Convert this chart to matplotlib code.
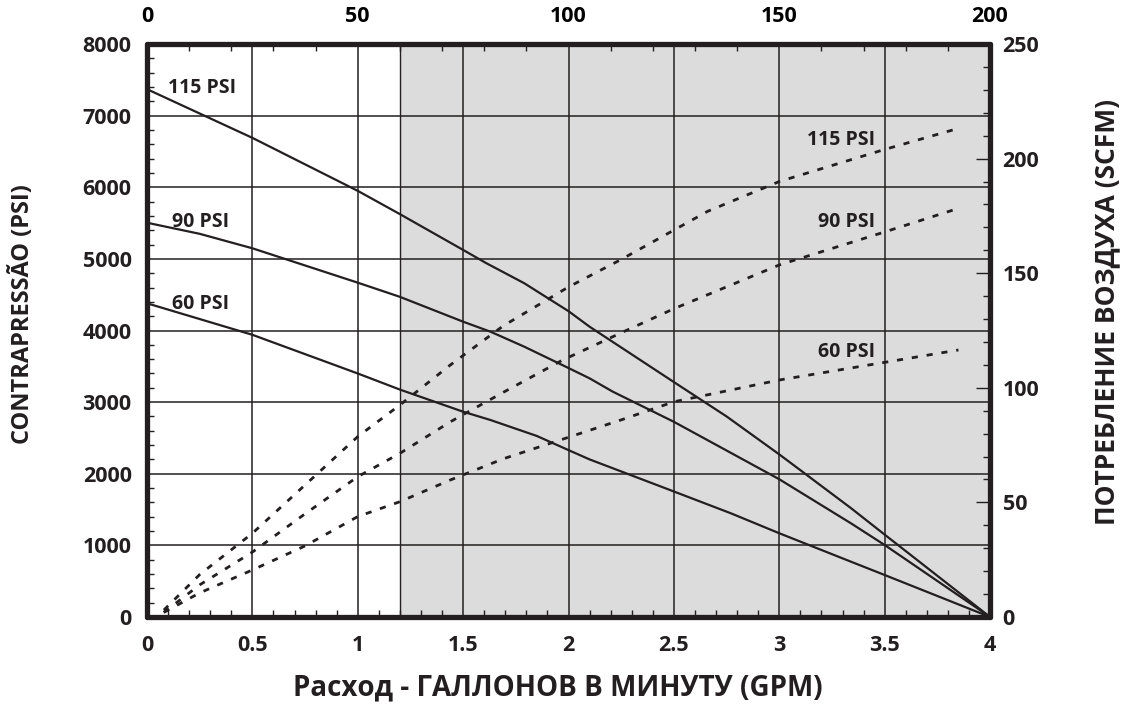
#!/usr/bin/env python3
import matplotlib
matplotlib.use('Agg')
import matplotlib.pyplot as plt
from matplotlib.ticker import MultipleLocator, FixedLocator
import numpy as np

# back pressure (PSI) vs flow (GPM), solid lines
gpm_115 = [0, 0.5, 1.0, 1.2, 1.5, 1.61, 1.79, 2.0, 2.1, 2.5, 2.75, 3.0, 3.1, 3.34, 3.5, 4.0]
psi_115 = [7370, 6690, 5950, 5625, 5125, 4940, 4660, 4270, 4053, 3280, 2800, 2270, 2050, 1520, 1150, 0]

gpm_90 = [0, 0.25, 0.5, 1.0, 1.2, 1.5, 1.63, 1.79, 2.0, 2.1, 2.21, 2.5, 3.0, 3.34, 3.5, 4.0]
psi_90 = [5505, 5350, 5148, 4668, 4470, 4123, 3983, 3774, 3476, 3332, 3146, 2725, 1923, 1308, 1005, 0]

gpm_60 = [0, 0.5, 1.0, 1.2, 1.5, 1.63, 1.85, 2.0, 2.1, 2.5, 2.77, 3.0, 3.34, 3.5, 4.0]
psi_60 = [4380, 3940, 3400, 3175, 2866, 2750, 2527, 2330, 2200, 1752, 1448, 1169, 772, 586, 0]

# air consumption (SCFM) vs flow (GPM), dashed lines
air_gpm_115 = [0.08, 0.25, 0.5, 0.75, 1.0, 1.2, 1.44, 1.69, 2.0, 2.25, 2.5, 2.66, 3.0, 3.5, 3.85]
scfm_115 = [3, 18.5, 36.5, 57.6, 78.7, 92.5, 110, 127, 144, 156, 168.8, 177, 190, 204, 213.2]

air_gpm_90 = [0.08, 0.25, 0.5, 0.75, 1.0, 1.2, 1.44, 1.69, 1.97, 2.25, 2.5, 3.0, 3.5, 3.85]
scfm_90 = [2, 14, 28.3, 45, 61.2, 71.4, 85.2, 98, 112, 124, 134.5, 153.6, 168, 178.3]

air_gpm_60 = [0.08, 0.25, 0.5, 0.75, 1.0, 1.2, 1.44, 1.69, 1.97, 2.25, 2.5, 3.0, 3.5, 3.85]
scfm_60 = [2, 10.5, 20.5, 31, 43.8, 50.3, 59.8, 69, 77.5, 86, 93.9, 103.4, 111.1, 116.5]

top_ticks = [0, 50, 100, 150, 200]
shade_start = 1.2

plt.rcParams['font.family'] = ['Open Sans', 'DejaVu Sans']
plt.rcParams['font.weight'] = 'bold'

ink = '#231f20'
fig = plt.figure(figsize=(11.28, 7.09), dpi=100)
ax = fig.add_axes([0.1303, 0.1298, 0.7474, 0.8081])

ax.set_xlim(0, 4)
ax.set_ylim(0, 8000)
ax.axvspan(shade_start, 4, facecolor='#dcdcdc', edgecolor=ink, linewidth=1.0, zorder=0)

ax.xaxis.set_major_locator(MultipleLocator(0.5))
ax.xaxis.set_minor_locator(MultipleLocator(0.1))
ax.yaxis.set_major_locator(MultipleLocator(1000))
ax.yaxis.set_minor_locator(MultipleLocator(200))
ax.grid(True, which='major', color=ink, linewidth=1.1, zorder=1)
ax.set_axisbelow(False)
ax.xaxis.set_major_formatter(plt.FuncFormatter(lambda v, p: f'{v:g}'))

for s in ax.spines.values():
    s.set_linewidth(3.8)
    s.set_color(ink)
    s.set_capstyle('round')

tick_fs = 15.5
ax.tick_params(which='both', direction='in', color=ink, width=1.0)
ax.tick_params(axis='y', which='major', length=0, labelsize=tick_fs, pad=11)
ax.tick_params(axis='x', which='major', length=0, labelsize=tick_fs, pad=13)
ax.tick_params(which='minor', length=5)
ax.tick_params(axis='x', which='minor', top=False)
ax.tick_params(axis='y', which='minor', right=False)

lw = 1.6
ax.plot(gpm_115, psi_115, color=ink, lw=lw, zorder=3)
ax.plot(gpm_90, psi_90, color=ink, lw=lw, zorder=3)
ax.plot(gpm_60, psi_60, color=ink, lw=lw, zorder=3)

ax2 = ax.twinx()
ax2.set_ylim(0, 250)
ax2.yaxis.set_major_locator(MultipleLocator(50))
ax2.yaxis.set_minor_locator(MultipleLocator(10))
ax2.tick_params(which='both', direction='in', color=ink, width=1.0)
ax2.tick_params(which='major', length=10, labelsize=tick_fs, pad=9)
ax2.tick_params(which='minor', length=5)
for s in ax2.spines.values():
    s.set_visible(False)
dash = (0, (2.2, 3.2))
ax2.plot(air_gpm_115, scfm_115, color=ink, lw=2.0, linestyle=dash, zorder=3)
ax2.plot(air_gpm_90, scfm_90, color=ink, lw=2.0, linestyle=dash, zorder=3)
ax2.plot(air_gpm_60, scfm_60, color=ink, lw=2.0, linestyle=dash, zorder=3)

top = ax.secondary_xaxis('top', functions=(lambda x: x * 50, lambda x: x / 50))
top.xaxis.set_major_locator(FixedLocator(top_ticks))
top.xaxis.set_minor_locator(FixedLocator([v for v in range(0, 201, 10) if v % 50]))
top.tick_params(which='both', direction='in', color=ink, width=1.0)
top.tick_params(which='major', length=0, labelsize=tick_fs, pad=12)
top.tick_params(which='minor', length=5)
top.spines['top'].set_visible(False)

# curve labels
lab = dict(fontsize=14, fontweight='bold', color=ink, zorder=4)
ax.text(0.1, 7390, '115 PSI', ha='left', va='center', **lab)
ax.text(0.12, 5510, '90 PSI', ha='left', va='center', **lab)
ax.text(0.12, 4370, '60 PSI', ha='left', va='center', **lab)
ax.text(3.455, 6660, '115 PSI', ha='right', va='center', **lab)
ax.text(3.455, 5515, '90 PSI', ha='right', va='center', **lab)
ax.text(3.455, 3704, '60 PSI', ha='right', va='center', **lab)

ax.set_xlabel('Расход - ГАЛЛОНОВ В МИНУТУ (GPM)', fontsize=20, fontweight='bold', color=ink)
ax.set_ylabel('CONTRAPRESSÃO (PSI)', fontsize=17, fontweight='bold', color=ink)
ax2.set_ylabel('ПОТРЕБЛЕНИЕ ВОЗДУХА (SCFM)', fontsize=19, fontweight='bold', color=ink)

ax.xaxis.set_label_coords(0.4875, -0.124)
ax.xaxis.label.set_va('center')
ax.yaxis.set_label_coords(-0.148, 0.528)
ax.yaxis.label.set_va('center')
ax2.yaxis.set_label_coords(1.1388, 0.533)
ax2.yaxis.label.set_va('center')

for t in ax.get_xticklabels() + ax.get_yticklabels() + ax2.get_yticklabels():
    t.set_color(ink)

fig.savefig('out.png', dpi=100)
